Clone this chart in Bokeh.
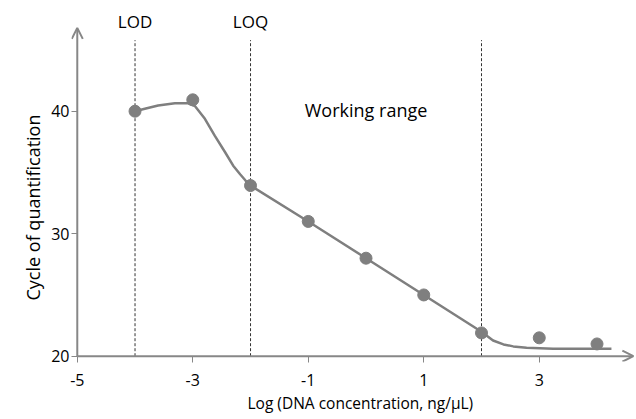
from bokeh.plotting import figure
from bokeh.models import Arrow, OpenHead, Label, Range1d, FixedTicker, Title
from bokeh.embed import file_html
from bokeh.resources import INLINE

# measured data points
conc_log = [-4, -3, -2, -1, 0, 1, 2, 3, 4]
cq_values = [40.0, 40.93, 33.93, 31.0, 28.0, 25.0, 21.9, 21.5, 21.0]

# fitted curve
curve_x = [-4, -3.83, -3.6, -3.31, -3.08, -2.96, -2.79, -2.62, -2.44, -2.3, -2.18, -2.09, -2.0,
           -1, 0, 1, 2, 2.2, 2.38, 2.55, 2.78, 3.24, 4.25]
curve_y = [40.0, 40.2, 40.47, 40.65, 40.65, 40.41, 39.38, 38.0, 36.65, 35.55, 34.85, 34.36, 33.93,
           31.0, 28.0, 25.0, 22.0, 21.28, 20.96, 20.8, 20.69, 20.6, 20.6]

# limits
limit_x = [-4, -2, 2]
limit_names = ["LOD", "LOQ", ""]
x_ticks = [-5, -3, -1, 1, 3]
x_tick_labels = ["-5", "-3", "-1", "1", "3"]
y_ticks = [20, 30, 40]

FONT = "Open Sans"
AXIS_C = "#878787"
MARK_C = "#7f7f7f"

X_AXIS_AT, Y_AXIS_AT = -5, 20
X0, X1 = -5.1, 4.684
Y0, Y1 = 19.567, 48.22

p = figure(width=636, height=419, output_backend="svg", toolbar_location=None,
           x_range=Range1d(X0, X1), y_range=Range1d(Y0, Y1),
           min_border_left=71, min_border_right=0, min_border_top=10, min_border_bottom=58)
p.outline_line_color = None
p.xgrid.visible = False
p.ygrid.visible = False

# axes (ticks reach into the frame up to the arrowed axis lines)
for ax in (p.xaxis[0], p.yaxis[0]):
    ax.axis_line_color = None
    ax.major_tick_line_color = AXIS_C
    ax.major_tick_line_width = 1
    ax.minor_tick_line_color = None
    ax.major_label_text_font = FONT
    ax.major_label_text_font_size = "16px"
    ax.major_label_text_color = "#000000"

p.xaxis.ticker = FixedTicker(ticks=x_ticks)
p.xaxis.major_label_overrides = {t: s for t, s in zip(x_ticks, x_tick_labels)}
p.yaxis.ticker = FixedTicker(ticks=y_ticks)
p.xaxis.major_tick_in = 5
p.xaxis.major_tick_out = 1
p.yaxis.major_tick_in = 6
p.yaxis.major_tick_out = 0
p.xaxis.major_label_standoff = 11
p.yaxis.major_label_standoff = 2

# axis titles
p.add_layout(Title(text="Log (DNA concentration, ng/\u00b5L)", align="left", offset=176,
                   text_font=FONT, text_font_size="15.5px", text_font_style="normal",
                   text_color="#000000", standoff=2), "below")
p.add_layout(Title(text="Cycle of quantification", align="left", offset=61,
                   text_font=FONT, text_font_size="18px", text_font_style="normal",
                   text_color="#000000", standoff=7), "left")

# arrowed axis lines
p.add_layout(Arrow(end=OpenHead(size=11, line_color=AXIS_C, line_width=2),
                   x_start=X_AXIS_AT, y_start=Y_AXIS_AT, x_end=X_AXIS_AT, y_end=46.8,
                   line_color=AXIS_C, line_width=2))
p.add_layout(Arrow(end=OpenHead(size=11, line_color=AXIS_C, line_width=2),
                   x_start=X_AXIS_AT, y_start=Y_AXIS_AT, x_end=4.63, y_end=Y_AXIS_AT,
                   line_color=AXIS_C, line_width=2))

# limit lines
p.segment(x0=limit_x, y0=[Y_AXIS_AT] * len(limit_x), x1=limit_x, y1=[45.8] * len(limit_x),
          line_color="#333333", line_width=1, line_dash="3 2")

# curve and points
p.line(curve_x, curve_y, line_color=MARK_C, line_width=2.5, line_join="round")
p.scatter(conc_log, cq_values, size=12, fill_color=MARK_C, line_color=MARK_C)

for lx, name in zip(limit_x, limit_names):
    if name:
        p.add_layout(Label(x=lx, y=47.32, text=name, text_align="center",
                           text_baseline="alphabetic", text_font=FONT,
                           text_font_size="17px", text_color="#000000"))
p.add_layout(Label(x=0.0, y=40.1, text="Working range", text_align="center",
                   text_baseline="alphabetic", text_font=FONT,
                   text_font_size="18px", text_color="#000000"))

open("out.html", "w").write(file_html(p, INLINE))
